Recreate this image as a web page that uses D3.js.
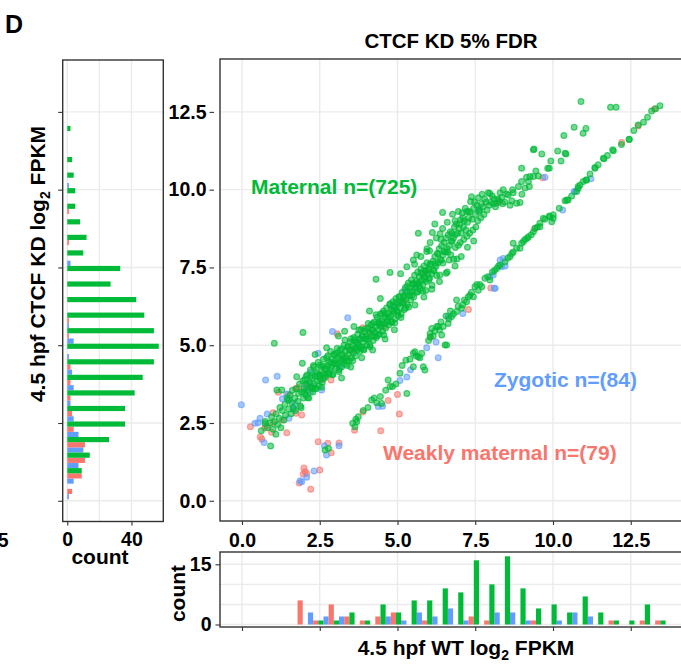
<!DOCTYPE html>
<html>
<head>
<meta charset="utf-8">
<script src="https://cdn.jsdelivr.net/npm/d3@7"></script>
<style>
  body { margin: 0; background: #fff; }
  text { font-family: "Liberation Sans", Arial, sans-serif; font-weight: bold; }
  .tick line { stroke: #333; stroke-width: 1.1; }
  .tick text { fill: #000; font-size: 19.5px; }
</style>
</head>
<body>
<div id="chart"></div>
<script>
// ---- data ----
const groups = ['Zygotic', 'Weakly maternal', 'Maternal'];
const colors = ['#619CFF', '#F8766D', '#00BA38'];
const axisBreaks = [0, 2.5, 5, 7.5, 10, 12.5];

// histogram under the scatter (x = WT log2 FPKM), bin width 0.5
const botCenters = [1.87, 2.37, 2.87, 3.37, 3.87, 4.37, 4.87, 5.37, 5.87, 6.37, 6.87, 7.37,
  7.87, 8.37, 8.87, 9.37, 9.87, 10.37, 10.87, 11.37, 11.87, 12.37, 12.87, 13.37];
const botBlue  = [0, 3, 2, 2, 0, 0, 2, 1, 3, 2, 4, 1, 0, 3, 3, 1, 0, 1, 3, 2, 0, 0, 0, 0];
const botRed   = [6, 1, 5, 2, 1, 2, 3, 0, 1, 0, 0, 2, 1, 0, 0, 1, 0, 0, 0, 0, 1, 0, 1, 1];
const botGreen = [0, 1, 1, 3, 1, 5, 3, 6, 6, 9, 8, 16, 10, 17, 9, 4, 5, 3, 7, 3, 1, 1, 5, 1];

// histogram left of the scatter (y = CTCF KD log2 FPKM), bin width 0.5
const sideCenters = [0.3, 0.8, 1.3, 1.8, 2.3, 2.8, 3.3, 3.8, 4.3, 4.8, 5.3, 5.8, 6.3, 6.8,
  7.3, 7.8, 8.3, 8.8, 9.3, 9.8, 10.3, 10.8, 11.3, 11.8];
const sideBlue  = [1, 4, 7, 10, 7, 4, 2, 4, 3, 1, 4, 1, 0, 0, 0, 2, 0, 0, 0, 0, 1, 0, 0, 0];
const sideRed   = [3, 9, 11, 11, 4, 3, 2, 2, 2, 0, 1, 1, 0, 0, 0, 0, 1, 0, 1, 0, 0, 0, 0, 0];
const sideGreen = [0, 9, 14, 26, 36, 36, 42, 47, 54, 57, 54, 48, 43, 27, 33, 10, 12, 8, 5, 5, 4, 3, 0, 2];

// scatter points [WT, CTCF KD]
const bluePts = [[-0.02,3.09],[0.42,2.49],[0.52,2.51],[0.58,2.65],[0.81,2.79],[0.71,1.87],[0.76,3.88],
  [1.13,4.0],[1.30,3.28],[1.44,3.43],[1.52,3.24],[1.51,2.65],[1.65,2.94],[1.7,3.1],[2.22,4.12],[2.45,4.74],
  [2.56,3.56],[2.2,3.5],[2.29,3.67],[2.05,3.7],[2.91,5.44],[3.40,5.88],[3.15,4.3],[3.8,5.2],[4.4,5.7],
  [4.92,6.24],[4.86,6.24],[5.24,6.77],[5.6,6.9],[2.65,1.77],[2.72,1.47],[3.12,1.77],[2.32,0.96],
  [1.87,0.64],[1.92,0.61],[2.08,0.76],[4.38,3.03],[4.52,3.04],[5.08,3.87],[5.30,3.98],[5.42,4.21],
  [5.94,4.92],[6.24,5.10],[6.31,4.60],[6.63,5.92],[7.10,6.02],[7.97,7.20],[8.08,7.26],[8.11,6.83],
  [8.14,6.83],[8.30,7.74],[8.35,7.52],[8.40,7.79],[8.46,7.55],[7.61,9.39],[9.74,10.40],[10.31,9.35],
  [10.68,9.94],[10.71,9.94],[11.22,10.35]];

const redPts = [[0.27,2.38],[0.59,2.05],[0.64,1.98],[0.73,2.34],[0.79,2.40],[1.0,2.83],[1.0,2.49],
  [1.44,2.19],[1.17,3.49],[1.49,3.42],[1.74,2.81],[1.73,3.61],[1.82,3.64],[1.92,2.76],[2.08,3.67],
  [2.25,3.61],[2.61,4.04],[2.86,3.88],[3.06,5.37],[3.54,4.83],[3.88,5.56],[3.3,4.6],[4.1,5.4],
  [4.57,5.60],[5.2,6.4],[2.45,1.90],[2.76,1.85],[2.87,1.54],[3.12,1.86],[1.99,1.05],[2.03,0.94],
  [1.97,0.86],[2.08,0.88],[2.50,0.99],[1.84,0.57],[2.21,0.37],[3.62,2.27],[3.89,2.85],[4.46,2.25],
  [4.70,3.22],[5.0,3.42],[5.06,2.79],[6.06,5.25],[7.28,6.15],[8.0,6.84],[5.88,7.34],[8.28,9.60],
  [9.42,8.75],[9.67,10.38],[12.21,11.52],[12.74,12.05],[13.26,12.59],[1.3,2.6],[2.6,3.9],[0.95,2.2]];

const greenPts = [
  // upper band, low end
  [0.62,2.25],[0.75,2.55],[0.82,2.35],[0.9,2.5],[0.92,1.76],[0.95,2.7],[1.0,2.3],[1.05,2.55],[1.09,2.14],
  [1.1,2.8],[1.15,2.45],[1.2,2.65],[1.22,3.0],[1.25,2.35],[1.28,3.56],[1.3,2.9],[1.35,2.6],[1.38,3.1],
  [1.4,2.75],[1.45,3.3],[1.49,3.24],[1.5,2.95],[1.55,3.4],[1.58,2.8],[1.6,3.15],[1.62,3.55],[1.65,3.0],
  [1.7,3.3],[1.72,2.9],[1.75,3.6],[1.76,3.99],[1.8,3.2],[1.82,3.45],[1.85,3.75],[1.88,3.05],[1.9,2.99],
  [1.92,3.5],[1.95,3.85],[1.98,3.3],[1.04,5.06],[1.96,5.41],[1.94,4.42],[0.74,2.48],[1.12,3.56],
  // 2 - 3
  [2.0,3.6],[2.02,3.9],[2.05,3.4],[2.08,3.75],[2.1,4.05],[2.12,3.55],[2.15,3.3],[2.18,3.8],[2.2,4.2],
  [2.22,3.65],[2.25,3.95],[2.28,3.5],[2.3,4.35],[2.32,3.75],[2.35,4.0],[2.38,3.6],[2.4,4.15],[2.42,3.85],
  [2.45,4.45],[2.48,3.7],[2.5,4.05],[2.52,3.9],[2.55,4.3],[2.58,3.8],[2.6,4.1],[2.62,4.55],[2.65,3.95],
  [2.68,4.25],[2.7,4.0],[2.72,4.6],[2.75,4.35],[2.78,4.1],[2.8,4.45],[2.82,4.2],[2.85,4.8],[2.88,4.3],
  [2.9,4.55],[2.92,4.05],[2.95,4.4],[2.98,4.7],[2.72,4.92],[2.35,4.7],
  [2.01,3.51],[2.06,4.00],[2.11,3.32],[2.16,3.79],[2.21,4.01],[2.26,3.61],[2.31,4.30],[2.36,3.62],
  [2.41,4.09],[2.46,3.99],[2.51,4.36],[2.56,3.65],[2.61,4.33],[2.66,4.07],[2.71,4.24],[2.76,4.66],
  [2.81,4.08],[2.86,4.45],[2.91,4.07],[2.96,4.71],
  // 3 - 4
  [3.0,4.5],[3.02,4.25],[3.05,4.75],[3.08,4.4],[3.1,4.6],[3.12,4.15],[3.15,4.85],[3.18,4.5],[3.2,4.3],
  [3.22,4.7],[3.25,4.55],[3.28,5.0],[3.3,4.4],[3.32,4.8],[3.35,4.6],[3.38,4.35],[3.4,4.95],[3.42,4.7],
  [3.45,4.5],[3.48,5.1],[3.5,4.85],[3.52,4.6],[3.55,5.0],[3.58,4.75],[3.6,5.25],[3.62,4.9],[3.65,4.65],
  [3.68,5.1],[3.7,4.85],[3.72,5.35],[3.75,5.0],[3.78,4.8],[3.8,5.2],[3.82,5.5],[3.85,4.95],[3.88,5.3],
  [3.9,5.1],[3.92,4.85],[3.95,5.45],[3.98,5.2],[3.1,5.3],[3.3,5.45],[3.6,5.6],[3.2,3.95],[3.5,4.3],[3.85,4.6],
  [3.01,4.41],[3.06,4.90],[3.11,4.21],[3.16,4.68],[3.21,4.89],[3.26,4.49],[3.31,5.17],[3.36,4.49],
  [3.41,4.95],[3.46,4.85],[3.51,5.21],[3.56,4.50],[3.61,5.17],[3.66,4.91],[3.71,5.07],[3.76,5.49],
  [3.81,4.90],[3.86,5.27],[3.91,4.88],[3.96,5.52],
  // 4 - 5
  [4.0,5.3],[4.02,5.0],[4.05,5.55],[4.08,5.2],[4.1,5.4],[4.12,4.95],[4.15,5.65],[4.18,5.3],[4.2,5.5],
  [4.22,5.15],[4.25,5.75],[4.28,5.4],[4.3,5.6],[4.32,5.25],[4.35,5.9],[4.38,5.5],[4.4,5.7],[4.42,5.35],
  [4.45,6.0],[4.48,5.6],[4.5,5.8],[4.52,5.45],[4.55,6.1],[4.58,5.7],[4.6,5.9],[4.62,5.55],[4.65,6.2],
  [4.68,5.8],[4.7,6.0],[4.72,5.65],[4.75,6.3],[4.78,5.95],[4.8,6.15],[4.82,5.75],[4.85,6.4],[4.88,6.05],
  [4.9,6.25],[4.92,5.85],[4.95,6.5],[4.98,6.1],[4.31,7.12],[4.76,7.34],[4.1,6.1],[4.45,6.5],[4.6,5.2],
  [4.9,5.5],[4.2,4.85],
  [4.01,5.21],[4.06,5.70],[4.11,5.01],[4.16,5.49],[4.21,5.70],[4.26,5.30],[4.31,5.98],[4.36,5.31],
  [4.41,5.77],[4.46,5.67],[4.51,6.03],[4.56,5.33],[4.61,6.00],[4.66,5.74],[4.71,5.90],[4.76,6.33],
  [4.81,5.74],[4.86,6.11],[4.91,5.72],[4.96,6.37],
  // 5 - 6
  [5.0,6.3],[5.02,5.95],[5.05,6.55],[5.08,6.2],[5.1,6.4],[5.12,6.0],[5.15,6.7],[5.18,6.35],[5.2,6.55],
  [5.22,6.15],[5.25,6.85],[5.28,6.5],[5.3,6.7],[5.32,6.3],[5.35,7.0],[5.38,6.6],[5.4,6.85],[5.42,6.45],
  [5.45,7.1],[5.48,6.75],[5.5,6.95],[5.52,6.55],[5.55,7.25],[5.58,6.85],[5.6,7.05],[5.62,6.7],[5.65,7.35],
  [5.68,7.0],[5.7,7.2],[5.72,6.8],[5.75,7.45],[5.78,7.1],[5.8,7.3],[5.82,6.95],[5.85,7.55],[5.88,7.2],
  [5.9,7.4],[5.92,7.05],[5.95,7.65],[5.98,7.3],[5.51,7.74],[5.62,7.9],[5.3,7.52],[5.67,8.6],[5.94,8.01],
  [5.1,7.3],
  [5.01,6.06],[5.06,6.56],[5.11,5.89],[5.16,6.37],[5.21,6.59],[5.26,6.20],[5.31,6.90],[5.36,6.23],
  [5.41,6.70],[5.46,6.61],[5.51,6.99],[5.56,6.29],[5.61,6.97],[5.66,6.72],[5.71,6.90],[5.76,7.33],
  [5.81,6.75],[5.86,7.13],[5.91,6.76],[5.96,7.41],
  [5.55,7.6],[5.75,7.85],[5.95,8.1],[5.85,6.55],
  // 6 - 7
  [6.0,7.45],[6.03,7.15],[6.06,7.6],[6.1,7.3],[6.12,8.62],[6.14,7.7],[6.18,7.4],[6.2,7.85],[6.24,7.55],
  [6.28,7.95],[6.3,7.65],[6.34,8.1],[6.37,8.58],[6.38,7.75],[6.4,8.41],[6.42,8.2],[6.45,9.27],[6.46,7.9],
  [6.5,8.3],[6.53,8.0],[6.56,8.45],[6.6,8.1],[6.63,8.55],[6.66,8.2],[6.7,8.65],[6.73,8.35],[6.77,9.21],
  [6.8,8.45],[6.83,8.8],[6.86,8.55],[6.9,8.9],[6.93,8.6],[6.96,9.3],[6.98,8.75],[6.03,8.04],[6.2,8.9],
  [6.01,7.11],[6.06,7.61],[6.11,6.93],[6.16,7.41],[6.21,7.63],[6.26,7.24],[6.31,7.93],[6.36,7.26],
  [6.41,7.73],[6.46,7.64],[6.51,8.01],[6.56,7.31],[6.61,7.99],[6.66,7.74],[6.71,7.91],[6.76,8.34],
  [6.81,7.76],[6.86,8.14],[6.91,7.77],[6.96,8.21],
  [6.05,8.3],[6.25,8.45],[6.45,8.75],[6.6,8.95],[6.75,8.6],[6.85,9.0],[6.1,6.8],[6.35,7.05],[6.6,7.35],
  [6.85,7.55],
  // 7 - 9
  [7.0,8.9],[7.03,9.03],[7.05,8.6],[7.1,9.1],[7.12,8.8],[7.15,9.0],[7.2,8.7],[7.22,9.3],[7.25,8.95],
  [7.28,9.29],[7.3,9.1],[7.33,9.29],[7.35,9.62],[7.38,9.77],[7.4,9.05],[7.45,9.4],[7.5,9.2],[7.55,9.5],
  [7.6,9.74],[7.62,9.3],[7.65,9.34],[7.7,9.55],[7.75,9.45],[7.8,9.7],[7.85,9.6],[7.92,9.9],[7.97,9.88],
  [8.0,9.6],[8.05,9.8],[8.1,9.7],[8.15,9.45],[8.19,9.56],[8.25,9.65],[8.3,9.9],[8.35,9.75],[8.4,10.0],
  [8.45,9.6],[8.51,9.86],[8.56,9.83],[8.62,9.5],[8.67,9.64],[8.72,9.9],[8.83,9.56],[8.89,10.10],
  [8.94,9.59],[8.99,10.69],[8.99,10.26],
  [7.02,8.3],[7.08,9.25],[7.13,8.4],[7.18,9.4],[7.24,8.5],[7.32,8.6],[7.42,8.7],[7.48,9.6],[7.52,8.8],
  [7.58,9.0],[7.68,9.1],[7.72,9.85],[7.78,9.2],[7.88,9.35],[7.95,9.5],[8.08,9.55],[8.22,9.7],[8.38,9.55],
  [7.05,7.85],[7.25,8.15],[7.45,8.35],
  // upper band, sparse top
  [9.21,10.26],[9.24,10.10],[9.26,10.42],[9.37,10.42],[9.37,11.28],[9.39,11.31],[9.53,10.44],[9.64,11.15],
  [9.83,10.69],[9.88,10.69],[9.93,10.92],[10.15,11.24],[10.26,10.92],[10.35,11.74],[10.39,11.17],
  [10.42,11.15],[10.68,12.01],[10.9,12.83],[10.97,11.81],[11.06,11.97],[11.85,12.65],[12.03,12.65],
  [9.1,10.05],[9.0,9.85],[8.7,10.0],[9.45,10.6],[9.15,10.4],
  // lower band
  [2.67,1.63],[2.78,1.68],[3.56,2.49],[3.63,2.38],[3.69,2.54],[3.74,2.70],[3.66,2.62],[4.17,3.24],
  [4.33,3.15],[4.49,3.13],[4.25,3.3],[4.70,3.88],[4.76,3.67],[4.84,3.67],[4.62,3.55],[5.08,4.10],
  [5.30,3.45],[5.27,4.52],[5.51,4.31],[5.51,4.74],[5.56,4.79],[5.6,4.65],[5.67,4.63],[5.72,4.6],
  [5.78,4.74],[5.83,4.31],[5.88,4.20],[6.05,5.27],[6.05,5.38],[6.10,5.54],[6.15,5.3],[6.26,5.60],
  [6.31,5.6],[6.42,5.33],[6.4,5.75],[6.47,5.60],[6.53,5.01],[6.58,5.01],[6.56,5.94],[6.63,5.70],
  [6.7,6.1],[6.74,5.92],[6.90,6.08],[6.9,6.45],[7.06,6.19],[7.22,6.40],[7.28,6.56],[7.33,6.61],
  [7.44,6.56],[7.49,6.88],[7.60,6.77],[7.71,6.88],[7.81,7.15],[7.97,7.10],[8.19,7.47],[8.30,7.58],
  [8.46,7.68],[8.62,7.85],[8.72,8.0],[8.72,8.28],[8.83,8.12],[8.94,8.12],[8.99,8.28],[9.05,8.33],
  [9.17,8.44],[9.21,8.49],[9.37,8.65],[9.42,8.76],[9.58,8.81],[9.58,8.92],[9.69,9.08],[9.74,9.05],
  [9.88,9.15],[9.90,9.13],[9.96,8.97],[10.01,9.08],[10.01,9.19],[10.39,9.64],[10.44,9.67],[10.49,9.67],
  [10.76,9.94],[10.81,10.04],[10.81,10.10],[10.87,10.15],[10.97,10.26],[11.06,10.31],[11.08,10.31],
  [11.19,10.50],[11.35,10.71],[11.35,10.69],[11.62,11.01],[11.64,10.99],[11.92,11.28],[11.94,11.25],
  [12.45,11.61],[12.45,11.62],[12.74,12.08],[12.91,12.17],[13.04,12.33],[13.17,12.53],[13.44,12.70],
  [6.0,5.15],[6.2,5.45],[6.35,5.5],[6.65,5.85],[6.8,6.0],[6.95,6.25],[7.1,6.3],[7.15,6.45],[7.38,6.7],
  [7.55,6.95],[7.65,6.95],[7.9,7.2],[8.05,7.35],[8.12,7.4],[8.25,7.55],[8.55,7.8],[8.68,7.95],[9.1,8.4],
  [9.3,8.55],[9.5,8.8],[10.2,9.4],[10.6,9.8],[11.45,10.8],[11.75,11.1],[12.2,11.45],[12.6,11.9],
  [13.3,12.6],[5.15,4.35],[5.4,4.55],[4.45,3.35],[4.95,3.75],[3.9,2.9],[4.05,3.0]
];

// ---- layout ----
const width = 681;
const height = 664;
const gridColor = '#EBEBEB';
const frameColor = '#333';

const svg = d3.select('#chart').append('svg')
  .attr('width', width)
  .attr('height', height);

svg.append('rect').attr('width', width).attr('height', height).attr('fill', '#fff');

// main scatter scales (shared x with bottom histogram, shared y with side histogram)
const x = d3.scaleLinear().domain([-0.707, 14.116]).range([220, 681]);
const y = d3.scaleLinear().domain([-0.65, 14.2]).range([521, 59]);
// bottom histogram count scale
const yCount = d3.scaleLinear().domain([-0.62, 18.07]).range([627, 552]);
// side histogram count scale
const xCount = d3.scaleLinear().domain([-2.85, 59.85]).range([62.7, 163.3]);

function gridLines(g, vals, scale, vertical, from, to) {
  g.selectAll(null).data(vals).enter().append('line')
    .attr('x1', d => vertical ? scale(d) : from)
    .attr('x2', d => vertical ? scale(d) : to)
    .attr('y1', d => vertical ? from : scale(d))
    .attr('y2', d => vertical ? to : scale(d))
    .attr('stroke', gridColor)
    .attr('stroke-width', 1.4);
}

function frame(x0, y0, x1, y1) {
  svg.append('rect')
    .attr('x', x0).attr('y', y0)
    .attr('width', x1 - x0).attr('height', y1 - y0)
    .attr('fill', 'none')
    .attr('stroke', frameColor)
    .attr('stroke-width', 1.4);
}

// ---------- scatter panel ----------
const scatterG = svg.append('g');
gridLines(scatterG, axisBreaks, x, true, 59, 521);
gridLines(scatterG, axisBreaks, y, false, 220, 681);

svg.append('clipPath').attr('id', 'clipMain')
  .append('rect').attr('x', 220).attr('y', 59).attr('width', 461).attr('height', 462);

const pointsG = svg.append('g').attr('clip-path', 'url(#clipMain)');
const pointSets = [[redPts, colors[1]], [bluePts, colors[0]], [greenPts, colors[2]]];
pointSets.forEach(([pts, col]) => {
  pointsG.selectAll(null).data(pts).enter().append('circle')
    .attr('cx', d => x(d[0]))
    .attr('cy', d => y(d[1]))
    .attr('r', 2.9)
    .attr('fill', col)
    .attr('fill-opacity', 0.55)
    .attr('stroke', col)
    .attr('stroke-opacity', 0.65)
    .attr('stroke-width', 1.2);
});

frame(220, 59, 682, 521);

const axisY = d3.axisLeft(y).tickValues(axisBreaks).tickFormat(d3.format('.1f'))
  .tickSize(4.5).tickPadding(3);
svg.append('g').attr('transform', 'translate(214,0)').call(axisY)
  .call(g => g.select('.domain').remove());

const axisX = d3.axisBottom(x).tickValues(axisBreaks).tickFormat(d3.format('.1f'))
  .tickSize(4).tickPadding(8);
svg.append('g').attr('transform', 'translate(0,521)').call(axisX)
  .call(g => g.select('.domain').remove());

// group labels
const labels = [
  { text: 'Maternal n=(725)', x: 251, y: 194, color: colors[2] },
  { text: 'Zygotic n=(84)', x: 494, y: 386.5, color: colors[0] },
  { text: 'Weakly maternal n=(79)', x: 383, y: 460, color: colors[1] }
];
svg.selectAll(null).data(labels).enter().append('text')
  .attr('x', d => d.x).attr('y', d => d.y)
  .attr('fill', d => d.color)
  .style('font-size', '21px')
  .text(d => d.text);

svg.append('text')
  .attr('x', 451).attr('y', 48)
  .attr('text-anchor', 'middle')
  .style('font-size', '20.5px')
  .text('CTCF KD 5% FDR');

// ---------- bottom histogram ----------
const botG = svg.append('g');
gridLines(botG, axisBreaks, x, true, 552, 627);
gridLines(botG, [0, 5, 10, 15], yCount, false, 220, 681);

const binW = 0.5;
const botSeries = [botBlue, botRed, botGreen];
botSeries.forEach((counts, slot) => {
  botG.selectAll(null).data(botCenters.map((c, i) => [c, counts[i]]).filter(d => d[1] > 0))
    .enter().append('rect')
    .attr('x', d => x(d[0] - binW / 2 + slot * binW / 3))
    .attr('width', x(binW / 3) - x(0))
    .attr('y', d => yCount(d[1]))
    .attr('height', d => yCount(0) - yCount(d[1]))
    .attr('fill', colors[slot]);
});
frame(220, 552, 682, 627);

svg.append('g').attr('transform', 'translate(220,0)')
  .call(d3.axisLeft(yCount).tickValues([0, 15]).tickSize(4.5).tickPadding(4))
  .call(g => g.select('.domain').remove());
svg.append('g').attr('transform', 'translate(0,627)')
  .call(d3.axisBottom(x).tickValues(axisBreaks).tickFormat('').tickSize(4))
  .call(g => g.select('.domain').remove());

svg.append('text')
  .attr('transform', 'translate(185,593.5) rotate(-90)')
  .attr('text-anchor', 'middle')
  .style('font-size', '21px')
  .text('count');

const xTitle = svg.append('text')
  .attr('x', 466).attr('y', 655)
  .attr('text-anchor', 'middle')
  .style('font-size', '21px');
xTitle.append('tspan').text('4.5 hpf WT log');
xTitle.append('tspan').attr('dy', 5).style('font-size', '14px').text('2');
xTitle.append('tspan').attr('dy', -5).text(' FPKM');

// ---------- side histogram ----------
const sideG = svg.append('g');
gridLines(sideG, [0, 20, 40], xCount, true, 60, 521.5);
gridLines(sideG, axisBreaks, y, false, 62.7, 163.3);

const sideSeries = [sideBlue, sideRed, sideGreen];
sideSeries.forEach((counts, slot) => {
  sideG.selectAll(null).data(sideCenters.map((c, i) => [c, counts[i]]).filter(d => d[1] > 0))
    .enter().append('rect')
    .attr('y', d => y(d[0] - binW / 2 + (slot + 1) * binW / 3))
    .attr('height', y(0) - y(binW / 3))
    .attr('x', xCount(0))
    .attr('width', d => xCount(d[1]) - xCount(0))
    .attr('fill', colors[slot]);
});
frame(62.7, 60, 163.3, 521.5);

svg.append('g').attr('transform', 'translate(62.7,0)')
  .call(d3.axisLeft(y).tickValues(axisBreaks).tickFormat('').tickSize(4.5))
  .call(g => g.select('.domain').remove());
svg.append('g').attr('transform', 'translate(0,521.5)')
  .call(d3.axisBottom(xCount).tickValues([0, 40]).tickSize(4).tickPadding(6.5))
  .call(g => g.select('.domain').remove());

svg.append('text')
  .attr('x', 100).attr('y', 564)
  .attr('text-anchor', 'middle')
  .style('font-size', '21px')
  .text('count');

const yTitle = svg.append('text')
  .attr('transform', 'translate(45,264) rotate(-90)')
  .attr('text-anchor', 'middle')
  .style('font-size', '21px');
yTitle.append('tspan').text('4.5 hpf CTCF KD log');
yTitle.append('tspan').attr('dy', 5).style('font-size', '14px').text('2');
yTitle.append('tspan').attr('dy', -5).text(' FPKM');

// panel letter and the clipped label from the neighbouring panel
svg.append('text').attr('x', 5).attr('y', 33).style('font-size', '25px').text('D');
svg.append('text').attr('x', 8.5).attr('y', 547).attr('text-anchor', 'end')
  .style('font-size', '19.5px').text('2.5');
</script>
</body>
</html>
